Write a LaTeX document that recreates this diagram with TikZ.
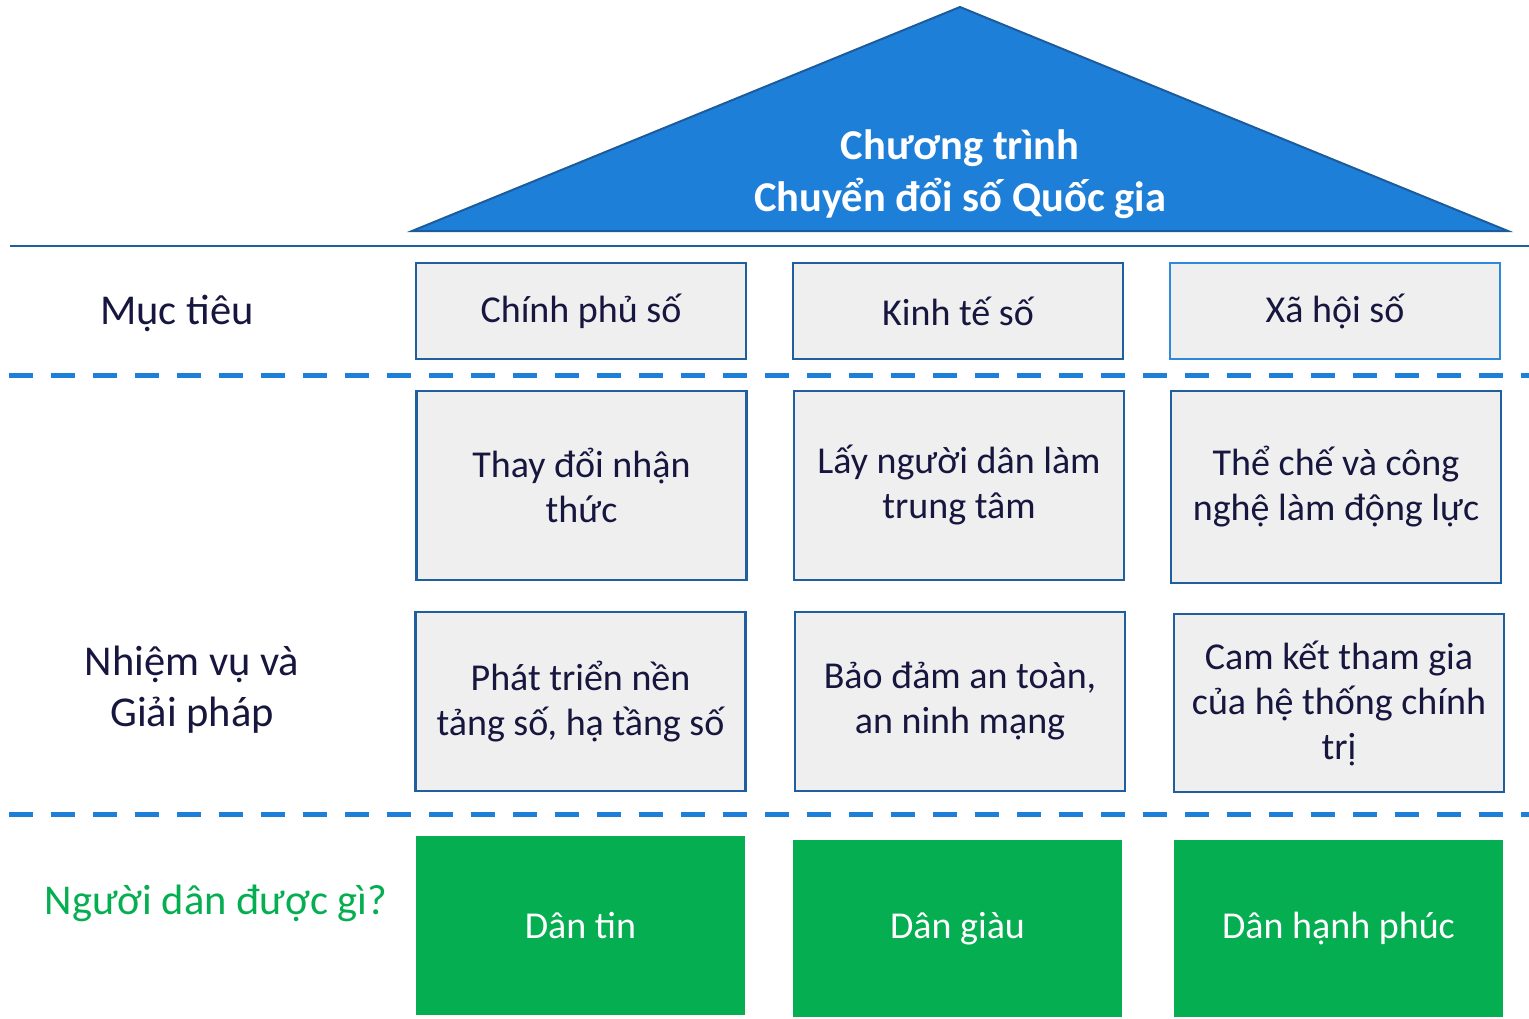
\documentclass[tikz,border=0pt]{standalone}
\usepackage{fontspec}
\setmainfont{Carlito}
\definecolor{roofblue}{HTML}{1E7FD9}
\definecolor{roofedge}{HTML}{1D5C9C}
\definecolor{edgeblue}{HTML}{1F5F9E}
\definecolor{lightedge}{HTML}{2E88DC}
\definecolor{boxgray}{HTML}{EFEFEF}
\definecolor{inkblue}{HTML}{16163E}
\definecolor{dangreen}{HTML}{05AE50}

\begin{document}
\begin{tikzpicture}[x=1pt,y=-1pt,
  cell/.style={draw=edgeblue, line width=2.5pt, fill=boxgray, text=inkblue, align=center,
    inner sep=0pt, minimum width=330pt, font=\fontsize{38}{45}\selectfont},
  gain/.style={fill=dangreen, text=white, align=center, inner sep=0pt,
    minimum width=329pt, font=\fontsize{38}{45}\selectfont},
  rowlabel/.style={text=inkblue, align=center, font=\fontsize{42.5}{51}\selectfont},
  divider/.style={roofblue, line width=5pt, dash pattern=on 24pt off 18pt}]

\useasboundingbox (0,0) rectangle (1529,1018);

% roof
\coordinate (r1) at (412,231);
\coordinate (r2) at (960,7);
\coordinate (r3) at (1508,231);
\draw[roofedge, fill=roofblue, line width=2pt, line join=miter] (r1) -- (r2) -- (r3) -- cycle;
\node[text=white, align=center, font=\fontsize{42.5}{52}\selectfont\bfseries] (title) at (960,174)
  {Chương trình\\Chuyển đổi số Quốc gia};

% separators
\draw[edgeblue, line width=2.5pt] (10,246) -- (1529,246);
\draw[divider] (9,375) -- (1529,375);
\draw[divider] (9,814) -- (1529,814);

% row labels
\node[rowlabel] (goals) at (177,313) {Mục tiêu};
\node[rowlabel] (tasks) at (192,690) {Nhiệm vụ và\\Giải pháp};
\node[rowlabel, text=dangreen] (gains) at (216,903) {Người dân được gì?};

% goals
\node[cell, minimum height=96pt] (g1) at (581,311) {Chính phủ số};
\node[cell, minimum height=96pt] (g2) at (958,311) {Kinh tế số};
\node[cell, minimum height=96pt, draw=lightedge] (g3) at (1335,311) {Xã hội số};

% tasks and solutions
\node[cell, minimum height=189pt] (t1) at (581.5,485.5) {Thay đổi nhận\\thức};
\node[cell, minimum height=189pt] (t2) at (959,485.5) {Lấy người dân làm\\trung tâm};
\node[cell, minimum height=192pt] (t3) at (1336,487) {Thể chế và công\\nghệ làm động lực};
\node[cell, minimum height=179pt] (s1) at (580.5,701.5) {Phát triển nền\\tảng số, hạ tầng số};
\node[cell, minimum height=179pt] (s2) at (960,701.5) {Bảo đảm an toàn,\\an ninh mạng};
\node[cell, minimum height=178pt] (s3) at (1339,703) {Cam kết tham gia\\của hệ thống chính\\trị};

% what people get
\node[gain, minimum height=179pt] (d1) at (580.5,925.5) {Dân tin};
\node[gain, minimum height=177pt] (d2) at (957.5,928.5) {Dân giàu};
\node[gain, minimum height=177pt] (d3) at (1338.5,928.5) {Dân hạnh phúc};

\end{tikzpicture}
\end{document}
